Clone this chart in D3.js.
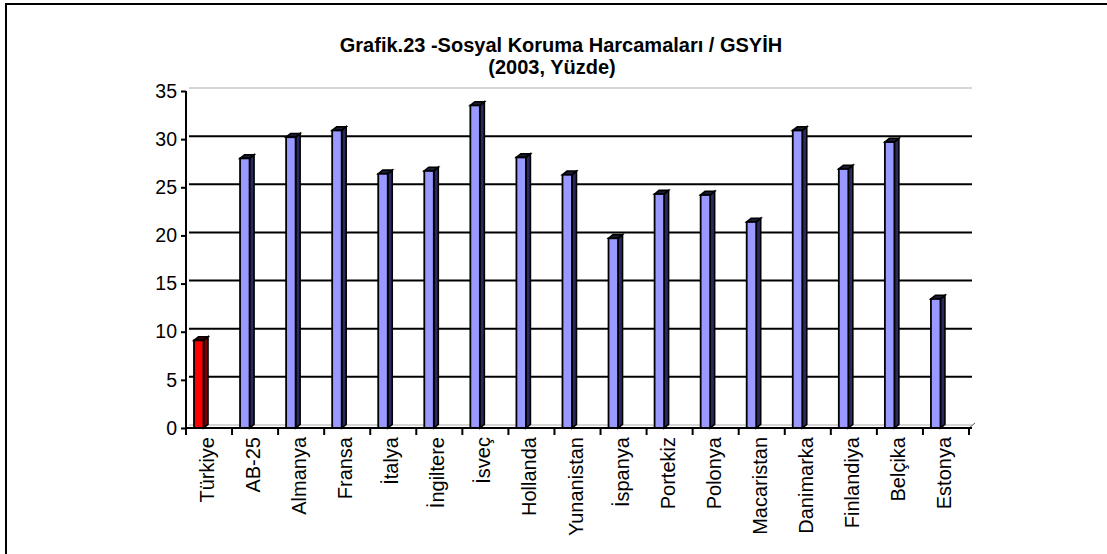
<!DOCTYPE html>
<html lang="tr">
<head>
<meta charset="UTF-8"/>
<title>Grafik.23</title>
<script src="https://d3js.org/d3.v7.min.js" charset="utf-8"></script>
<style type="text/css">
    body { margin: 0; background: #fff; }
    text { font-family: "Liberation Sans", Arial, sans-serif; fill: #000; }
    .title { font-size: 20px; font-weight: bold; }
    .axis text { font-size: 19.5px; }
    .cat { font-size: 20px; }
    .axis path, .axis line { stroke: #000; stroke-width: 2px; }
</style>
</head>
<body>
<div id="chart"></div>
<script type="text/javascript">
// categories and values (2003, % of GDP)
var countries = ["Türkiye", "AB-25", "Almanya", "Fransa", "İtalya", "İngiltere", "İsveç",
    "Hollanda", "Yunanistan", "İspanya", "Portekiz", "Polonya", "Macaristan",
    "Danimarka", "Finlandiya", "Belçika", "Estonya"];
var values = [9.1, 28.0, 30.2, 30.9, 26.4, 26.7, 33.5,
    28.1, 26.3, 19.7, 24.3, 24.2, 21.4,
    30.9, 26.9, 29.7, 13.4];
var yTicks = [0, 5, 10, 15, 20, 25, 30, 35];
var titleLines = ["Grafik.23 -Sosyal Koruma Harcamaları / GSYİH", "(2003, Yüzde)"];

var W = 1107, H = 554;
var svg = d3.select("#chart").append("svg")
    .attr("width", W).attr("height", H);

// frame
svg.append("line").attr("x1", 6).attr("y1", 4).attr("x2", W).attr("y2", 4)
    .attr("stroke", "#000").attr("stroke-width", 2);
svg.append("line").attr("x1", 6).attr("y1", 3).attr("x2", 6).attr("y2", H)
    .attr("stroke", "#000").attr("stroke-width", 2);

// title
svg.append("text").attr("class", "title").attr("x", 561).attr("y", 52)
    .attr("text-anchor", "middle").text(titleLines[0]);
svg.append("text").attr("class", "title").attr("x", 552).attr("y", 74)
    .attr("text-anchor", "middle").text(titleLines[1]);

var x = d3.scaleBand().domain(countries).range([186, 969]).padding(0);
var y = d3.scaleLinear().domain([0, 35]).range([428, 91]);

// back wall offset and bar depth
var wx = 3, wy = -3;
var dx = 4.5, dy = -3.7;

// back wall edges
svg.append("line").attr("x1", 186 + wx).attr("x2", 969 + wx)
    .attr("y1", y(35) + wy).attr("y2", y(35) + wy)
    .attr("stroke", "#c8c8c8").attr("stroke-width", 1.5);
svg.append("line").attr("x1", 186 + wx).attr("x2", 969 + wx)
    .attr("y1", y(0) + wy).attr("y2", y(0) + wy)
    .attr("stroke", "#c8c8c8").attr("stroke-width", 1.5);
svg.append("line").attr("x1", 969).attr("x2", 969 + wx + 3)
    .attr("y1", y(0)).attr("y2", y(0) + wy - 2)
    .attr("stroke", "#555").attr("stroke-width", 1);

// gridlines on the back wall
svg.append("g").selectAll("line")
    .data(yTicks.filter(function (d) { return d > 0 && d < 35; }))
    .enter().append("line")
    .attr("x1", 186 + wx).attr("x2", 969 + wx)
    .attr("y1", function (d) { return y(d) + wy; })
    .attr("y2", function (d) { return y(d) + wy; })
    .attr("stroke", "#000").attr("stroke-width", 2);

// bars (side, top, front)
var bw = 9.5, off = 8;
var bars = svg.append("g").selectAll("g")
    .data(countries).enter().append("g");

bars.append("path")
    .attr("d", function (d, i) {
        var x1 = x(d) + off + bw, yt = y(values[i]), yb = y(0);
        return "M" + x1 + "," + yb + "L" + x1 + "," + yt + "L" + (x1 + dx) + "," + (yt + dy) +
            "L" + (x1 + dx) + "," + (yb + dy) + "Z";
    })
    .attr("fill", function (d, i) { return i === 0 ? "#7a0000" : "#2a2a5e"; })
    .attr("stroke", "#000").attr("stroke-width", 1.6);

bars.append("path")
    .attr("d", function (d, i) {
        var x0 = x(d) + off, x1 = x0 + bw, yt = y(values[i]);
        return "M" + x0 + "," + yt + "L" + (x0 + dx) + "," + (yt + dy) + "L" + (x1 + dx) + "," + (yt + dy) +
            "L" + x1 + "," + yt + "Z";
    })
    .attr("fill", function (d, i) { return i === 0 ? "#400000" : "#1a1a33"; })
    .attr("stroke", "#000").attr("stroke-width", 1.6);

bars.append("rect")
    .attr("x", function (d) { return x(d) + off; })
    .attr("y", function (d, i) { return y(values[i]); })
    .attr("width", bw)
    .attr("height", function (d, i) { return y(0) - y(values[i]); })
    .attr("fill", function (d, i) { return i === 0 ? "#ff0000" : "#9999ff"; })
    .attr("stroke", "#000").attr("stroke-width", 1.8);

// y axis
var yAxis = svg.append("g").attr("class", "axis")
    .attr("transform", "translate(186,0)")
    .call(d3.axisLeft(y).tickValues(yTicks).tickSize(5).tickPadding(4).tickSizeOuter(0));
yAxis.select(".domain").attr("d", "M0," + y(35) + "V" + y(0));

// x axis line and boundary ticks
svg.append("line").attr("x1", 185).attr("x2", 972)
    .attr("y1", y(0)).attr("y2", y(0))
    .attr("stroke", "#000").attr("stroke-width", 2);
var edges = countries.map(function (d) { return x(d); }).concat([x.range()[1]]);
svg.append("g").selectAll("line")
    .data(edges).enter().append("line")
    .attr("x1", function (d) { return d; }).attr("x2", function (d) { return d; })
    .attr("y1", y(0)).attr("y2", y(0) + 7)
    .attr("stroke", "#000").attr("stroke-width", 2);

// category labels, rotated
svg.append("g").selectAll("text")
    .data(countries).enter().append("text")
    .attr("class", "cat")
    .attr("text-anchor", "end")
    .attr("transform", function (d) {
        return "translate(" + (x(d) + x.bandwidth() / 2 + 5) + ",437) rotate(-90)";
    })
    .text(function (d) { return d; });
</script>
</body>
</html>
